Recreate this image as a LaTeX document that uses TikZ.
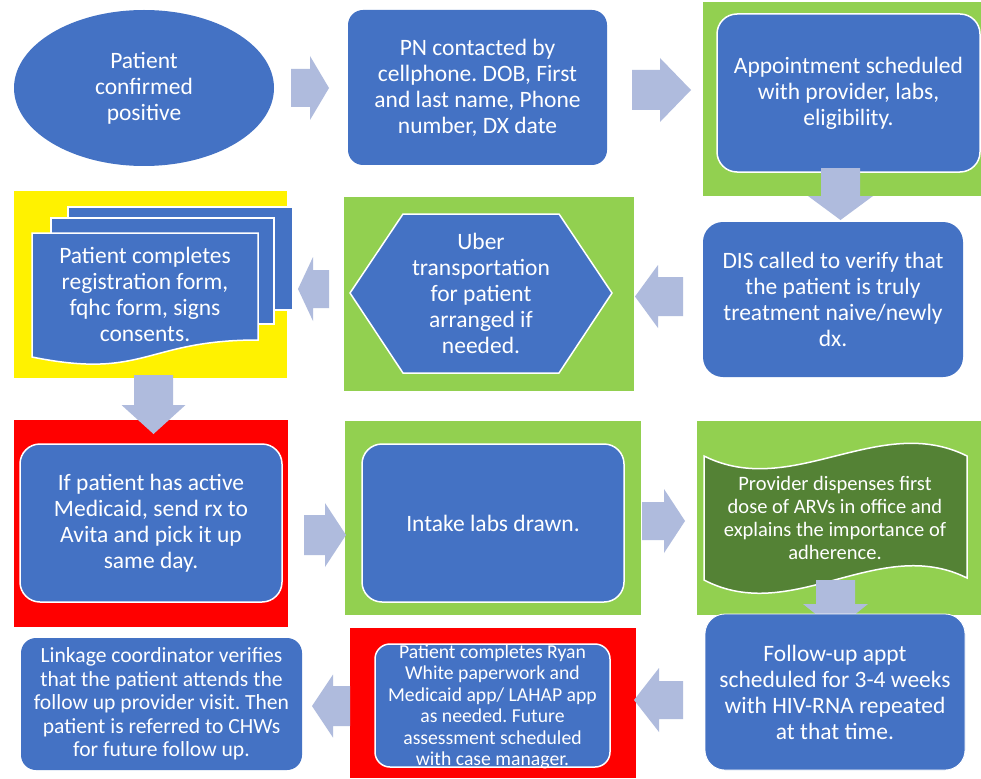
\documentclass[tikz,border=0pt]{standalone}
\usepackage{fontspec}
\setmainfont{Carlito}
\usetikzlibrary{shapes.geometric}
\frenchspacing
\definecolor{pblue}{HTML}{4472C4}
\definecolor{parrow}{HTML}{AFBBDD}
\definecolor{pgreen}{HTML}{92D050}
\definecolor{dgreen}{HTML}{548235}
\newcommand\fmain{\fontsize{23.5}{26}\selectfont}
\newcommand\fwave{\fontsize{20.5}{23}\selectfont}
\newcommand\fryan{\fontsize{19.7}{21.5}\selectfont}
\newcommand\flink{\fontsize{21.6}{23.5}\selectfont}
% block arrow, horizontal: tail x, head-start x, tip x, centre y, shaft half, head half
\newcommand\rarrowshape[6]{\fill[parrow] ({#1},{#4-#5}) -- ({#2},{#4-#5}) -- ({#2},{#4-#6}) -- ({#3},{#4}) -- ({#2},{#4+#6}) -- ({#2},{#4+#5}) -- ({#1},{#4+#5}) -- cycle;}
% block arrow, vertical: tail y, head-start y, tip y, centre x, shaft half, head half
\newcommand\darrowshape[6]{\fill[parrow] ({#4-#5},{#1}) -- ({#4-#5},{#2}) -- ({#4-#6},{#2}) -- ({#4},{#3}) -- ({#4+#6},{#2}) -- ({#4+#5},{#2}) -- ({#4+#5},{#1}) -- cycle;}
\begin{document}
\begin{tikzpicture}[x=1pt,y=-1pt,
  txt/.style={text=white, align=center, inner sep=0pt, font=\fmain},
  box/.style={fill=pblue, inner sep=0pt, outer sep=0pt},
  wborder/.style={draw=white, line width=1.5pt},
  shapeblue/.style={fill=pblue, draw=white, line width=1.5pt}]
\useasboundingbox (0,0) rectangle (981,778);
\fill[white] (0,0) rectangle (981,778);

% coloured backgrounds
\fill[pgreen] (703,2) rectangle (981,196);
\fill[pgreen] (344,197) rectangle (634,391);
\fill[yellow] (14,191) rectangle (287,378);
\fill[red] (14,420) rectangle (288,627);
\fill[pgreen] (345,421) rectangle (641,615);
\fill[pgreen] (697,421) rectangle (981,615);
\fill[red] (350,628) rectangle (636,778);

% row 1
\node[ellipse, fill=pblue, minimum width=260, minimum height=156, txt] (n1) at (144,88) {Patient\\confirmed\\positive};
\node[box, rounded corners=15pt, minimum width=259, minimum height=155, txt] (n2) at (477.5,87.5) {PN contacted by\\cellphone. DOB, First\\and last name, Phone\\number, DX date};
\node[box, rounded corners=20pt, wborder, minimum width=263, minimum height=158, txt] (n3) at (848.5,93) {Appointment scheduled\\with provider, labs,\\eligibility.};

% row 2
\node[box, rounded corners=20pt, minimum width=260, minimum height=155, txt] (n4) at (833,299.5) {DIS called to verify that\\the patient is truly\\treatment naive/newly\\dx.};
\filldraw[shapeblue] (350,293) -- (403,214) -- (559,214) -- (612,293) -- (559,373) -- (403,373) -- cycle;
\node[txt] (n5) at (481,293) {Uber\\transportation\\for patient\\arranged if\\needed.};
\filldraw[shapeblue] (68,207) rectangle (293,310);
\filldraw[shapeblue] (51,218) rectangle (274,324);
\filldraw[shapeblue] (32,233) -- (258,233) -- (258,340) .. controls (145,340) and (145,380) .. (32,357) -- cycle;
\node[txt] (n6) at (145,294) {Patient completes\\registration form,\\fqhc form, signs\\consents.};

% row 3
\node[box, rounded corners=20pt, wborder, minimum width=262, minimum height=158, txt] (n7) at (151,523) {If patient has active\\Medicaid, send rx to\\Avita and pick it up\\same day.};
\node[box, rounded corners=20pt, wborder, minimum width=262, minimum height=158, txt] (n8) at (493,523) {Intake labs drawn.};
\filldraw[fill=dgreen, draw=white, line width=1.5pt] (704,456) .. controls (792,500) and (879,412) .. (967,456) -- (967,578) .. controls (879,534) and (792,626) .. (704,580) -- cycle;
\node[txt, font=\fwave] (n9) at (835,518) {Provider dispenses first\\dose of ARVs in office and\\explains the importance of\\adherence.};

% row 4
\node[box, rounded corners=15pt, wborder, minimum width=235, minimum height=123] (n11) at (492.5,705.5) {};
\node[txt, font=\fryan] (n11t) at (492.5,707) {Patient completes Ryan\\White paperwork and\\Medicaid app/ LAHAP app\\as needed. Future\\assessment scheduled\\with case manager.};
\node[box, rounded corners=15pt, minimum width=281, minimum height=132, txt, font=\flink] (n12) at (161.5,704) {Linkage coordinator verifies\\that the patient attends the\\follow up provider visit. Then\\patient is referred to CHWs\\for future follow up.};

% block arrows
\rarrowshape{291}{310}{329}{88}{19}{32}
\rarrowshape{632}{660}{691}{90}{20}{32}
\darrowshape{168}{196}{220}{840.5}{19.5}{32.5}
\rarrowshape{683}{658}{635}{296.5}{19.5}{31.5}
\rarrowshape{329}{313}{298}{289}{19}{32}
\darrowshape{375}{405}{434}{153.5}{19.5}{32}
\rarrowshape{304}{325}{346}{535}{20}{32}
\rarrowshape{642}{664}{685}{521}{19}{32}
\darrowshape{580}{604}{630}{835.5}{19.5}{32.5}
\rarrowshape{683}{659}{634}{700}{19}{32}
\rarrowshape{350}{333}{312}{706}{20}{31.5}

% follow-up box drawn last (covers arrow tip)
\node[box, rounded corners=20pt, draw=white, line width=0.8pt, minimum width=260, minimum height=156, txt] (n10) at (835,692) {Follow-up appt\\scheduled for 3-4 weeks\\with HIV-RNA repeated\\at that time.};
\end{tikzpicture}
\end{document}
